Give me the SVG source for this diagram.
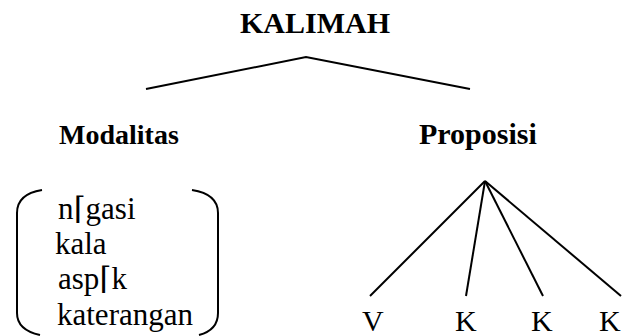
<svg xmlns="http://www.w3.org/2000/svg" width="622" height="336" viewBox="0 0 622 336">
<style>
.b{font-family:"Liberation Serif","Times New Roman","DejaVu Serif",serif;font-weight:bold;fill:#000}
.r{font-family:"Liberation Serif","Times New Roman","DejaVu Serif",serif;fill:#000}
.ln{stroke:#000;stroke-width:2;fill:none}
</style>
<rect width="622" height="336" fill="#fff"/>
<g id="kalimah"><text class="b" x="240" y="33" font-size="30">KALIMAH</text></g>
<g id="modalitas"><text class="b" x="59" y="144" font-size="28">Modalitas</text>
<path class="ln" d="M42 190 Q17 194 17 213 L17 313 Q17 330 40 335"/>
<path class="ln" d="M192 190 Q218 194 218 213 L218 313 Q218 330 199 335"/>
<text class="r" font-size="31"><tspan x="58" y="219">n⌈gasi</tspan><tspan x="55" y="254">kala</tspan><tspan x="58" y="289">asp⌈k</tspan><tspan x="57" y="325">katerangan</tspan></text>
</g>
<g id="proposisi"><text class="b" x="419" y="144" font-size="30">Proposisi</text></g>
<g id="v"><text class="r" x="362" y="331" font-size="30">V</text></g>
<g id="k1"><text class="r" x="455" y="331" font-size="30">K</text></g>
<g id="k2"><text class="r" x="531" y="331" font-size="30">K</text></g>
<g id="k3"><text class="r" x="599" y="331" font-size="30">K</text></g>
<g id="connectors">
<polyline class="ln" points="146,89 306,57 470,89"/>
<line class="ln" x1="485" y1="181" x2="370" y2="296"/>
<line class="ln" x1="485" y1="181" x2="466" y2="296"/>
<line class="ln" x1="485" y1="181" x2="543" y2="296"/>
<line class="ln" x1="485" y1="181" x2="621" y2="296"/>
</g>
</svg>
